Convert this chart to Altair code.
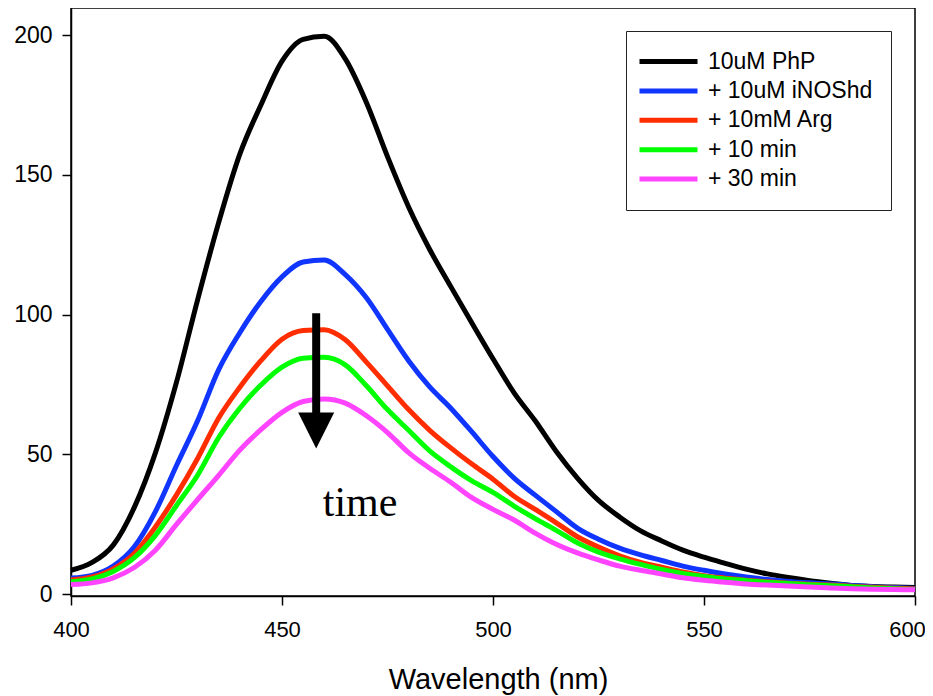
import altair as alt
import pandas as pd

# ---- data ----
wavelength = list(range(400, 601, 5))

php = [8.5, 11.3, 17.5, 31, 50.5, 75.8, 105.3, 133, 157.4, 175, 190.7, 198.5, 199.6, 191.5,
       175.9, 156.5, 138.5, 123.3, 110, 97, 84.2, 72, 62, 51, 41.5, 33.5, 27.6, 22.6, 19,
       15.7, 13.2, 11, 8.9, 7.2, 5.9, 4.8, 3.9, 3.1, 2.7, 2.5, 2.3]
inos = [5.7, 6.7, 10, 16.9, 29.5, 46, 62, 80.3, 93.5, 104.7, 113.5, 118.8, 119.5, 114.3,
        106, 94.7, 83.5, 74.1, 66.5, 58, 49.2, 41.5, 35.4, 29.5, 23.6, 19.6, 16.4, 14, 12,
        10, 8.5, 7.2, 6.1, 5.2, 4.5, 4, 3.6, 3.1, 2.6, 2.3, 2]
arg = [5, 6.1, 9, 14.5, 24, 35.5, 48.5, 63, 74, 83.5, 91.2, 94.3, 94.6, 91,
       83, 74.5, 66, 58.6, 52.3, 46.5, 41.1, 35, 30.3, 25.5, 20.5, 16.8, 13.7, 11.3, 9.6,
       7.9, 6.6, 5.7, 4.9, 4.4, 3.9, 3.5, 3.2, 2.8, 2.4, 2.1, 1.8]
min10 = [4.4, 5.4, 8.1, 13, 21, 31.7, 42.5, 56, 66.5, 74.8, 81.2, 84.4, 84.7, 82,
         74.5, 66, 58.6, 51.2, 45.5, 40.5, 36.4, 31.5, 27, 22.8, 18.3, 15, 12.6, 10.6, 8.8,
         7.4, 6.3, 5.4, 4.8, 4.2, 3.8, 3.3, 3, 2.6, 2.2, 1.9, 1.6]
min30 = [3.4, 4, 5.8, 9.5, 15.7, 24.9, 33.8, 42.5, 51.5, 58.8, 65, 68.9, 69.8, 68.3,
         63.8, 57.8, 50.6, 45, 40, 34.5, 30.3, 26.5, 21.8, 17.8, 14.7, 12.2, 10, 8.5, 7.2,
         5.8, 4.9, 4.2, 3.6, 3.2, 2.9, 2.5, 2.2, 1.9, 1.7, 1.6, 1.5]

series_names = ["10uM PhP", "+ 10uM iNOShd", "+ 10mM Arg", "+ 10 min", "+ 30 min"]
series_colors = ["#000000", "#1035ff", "#ff2d00", "#00ff00", "#ff44ff"]
series_values = [php, inos, arg, min10, min30]

x_ticks = [400, 450, 500, 550, 600]
y_ticks = [0, 50, 100, 150, 200]

# annotation: arrow and "time" label
arrow_x = [458.1]
arrow_top = [100.5]
arrow_shaft_end = [62]
arrow_head_y = [58.5]
label_x = [468.5]
label_y = [27.9]
label_text = ["time"]

rows = []
for name, vals in zip(series_names, series_values):
    for w, v in zip(wavelength, vals):
        rows.append({"wavelength": w, "intensity": v, "series": name})
df = pd.DataFrame(rows)

FONT = "Liberation Sans"

x_scale = alt.Scale(domain=[400, 600], nice=False, zero=False)
y_scale = alt.Scale(domain=[-0.7, 209.7], nice=False, zero=False)
color_scale = alt.Scale(domain=series_names, range=series_colors)

x_axis = alt.Axis(values=x_ticks, format="d", tickSize=9, labelPadding=14,
                  labelFontSize=22, labelFont=FONT, labelColor="black",
                  labelOffset={"condition": {"test": "datum.value >= 600", "value": -8}, "value": 0},
                  title="Wavelength (nm)", titleFont=FONT, titleFontSize=29,
                  titleFontWeight="normal", titleColor="black",
                  titleBaseline="alphabetic", titleY=92, titleX=427, titleAlign="center",
                  grid=False, domainColor="black", domainWidth=1.5,
                  tickColor="black", tickWidth=1.5, labelFlush=False)
y_axis = alt.Axis(values=y_ticks, format="d", tickSize=9, labelPadding=10,
                  labelFontSize=23, labelFont=FONT, labelColor="black",
                  grid=False, domainColor="black", domainWidth=1.5,
                  tickColor="black", tickWidth=1.5, labelFlush=False)

legend = alt.Legend(title=None, orient="none", legendX=555, legendY=23,
                    symbolType="M-2.9,0L2.9,0", symbolSize=400, symbolStrokeWidth=5,
                    symbolOffset=12, labelOffset=27, padding=18, rowPadding=4.4,
                    labelFontSize=23, labelFont=FONT, labelColor="black", labelLimit=400,
                    strokeColor="#222222", fillColor="white")

layers = []
for name in series_names:
    layers.append(
        alt.Chart(df)
        .transform_filter(alt.datum.series == name)
        .mark_line(strokeWidth=5, interpolate="monotone")
        .encode(
            x=alt.X("wavelength:Q", scale=x_scale, axis=x_axis),
            y=alt.Y("intensity:Q", scale=y_scale, axis=y_axis, title=None),
            color=alt.Color("series:N", scale=color_scale, legend=legend, sort=series_names),
        )
    )

arrow_df = pd.DataFrame({"x": arrow_x, "y": arrow_top, "y2": arrow_shaft_end, "yh": arrow_head_y})
shaft = alt.Chart(arrow_df).mark_rule(color="black", strokeWidth=8, strokeCap="butt").encode(
    x=alt.X("x:Q", scale=x_scale),
    y=alt.Y("y:Q", scale=y_scale),
    y2="y2:Q",
)
head = alt.Chart(arrow_df).mark_point(
    shape="M-1,-1L1,-1L0,1Z", size=1296, filled=True, color="black", opacity=1, strokeWidth=0
).encode(
    x=alt.X("x:Q", scale=x_scale),
    y=alt.Y("yh:Q", scale=y_scale),
)
label_df = pd.DataFrame({"x": label_x, "y": label_y, "t": label_text})
time_label = alt.Chart(label_df).mark_text(
    font="Liberation Serif", fontSize=42, align="center", baseline="alphabetic", color="black"
).encode(
    x=alt.X("x:Q", scale=x_scale),
    y=alt.Y("y:Q", scale=y_scale),
    text="t:N",
)

chart = (
    alt.layer(*layers, shaft, head, time_label)
    .properties(
        width=844, height=588,
        autosize=alt.AutoSizeParams(type="none"),
        padding={"left": 63, "top": 0, "right": 10, "bottom": 100},
        background="white",
    )
    .configure_view(stroke="black", strokeWidth=1.5)
)

chart.save("out.html", embed_options={"renderer": "svg", "actions": False})
